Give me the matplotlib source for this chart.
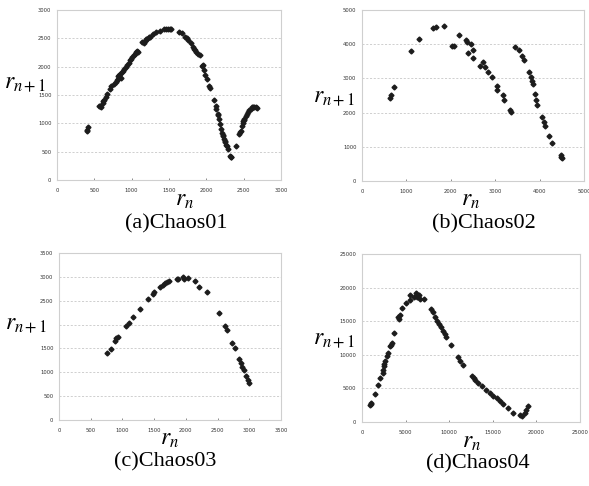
import matplotlib
matplotlib.use("Agg")
import matplotlib.pyplot as plt

plt.rcParams["mathtext.fontset"] = "stix"

# --- dati (r_n, r_n+1) ---
a_x = [400, 407, 416, 565, 580, 592, 610, 622, 633, 651, 669, 714, 728, 760, 796,
       805, 814, 820, 827, 835, 850, 860, 872, 888, 904, 920, 940, 958, 976, 990,
       1008, 1025, 1040, 1055, 1067, 1085, 1145, 1166, 1175, 1191, 1211, 1236, 1248,
       1282, 1327, 1373, 1427, 1460, 1486, 1510, 1532, 1636, 1668, 1714, 1740, 1759,
       1791, 1818, 1835, 1850, 1868, 1882, 1909, 1941, 1955, 1964, 1986, 2009, 2032,
       2055, 2100, 2123, 2136, 2155, 2160, 2168, 2182, 2191, 2209, 2220, 2227, 2236,
       2245, 2255, 2265, 2273, 2291, 2318, 2327, 2335, 2395, 2441, 2452, 2464, 2477,
       2485, 2491, 2500, 2509, 2530, 2545, 2560, 2577, 2595, 2614, 2630, 2645, 2665,
       2682]
a_y = [860, 880, 930, 1300, 1310, 1285, 1356, 1390, 1415, 1462, 1521, 1600, 1650, 1687, 1729,
       1760, 1788, 1840, 1829, 1860, 1865, 1800, 1906, 1930, 1965, 1990, 2025, 2060, 2113, 2140,
       2173, 2200, 2232, 2260, 2279, 2261, 2439, 2421, 2450, 2480, 2480, 2528, 2516,
       2569, 2605, 2628, 2658, 2660, 2670, 2665, 2658, 2605, 2587, 2528, 2500, 2469,
       2409, 2350, 2320, 2291, 2260, 2232, 2202, 2007, 2030, 1936, 1847, 1788, 1652,
       1622, 1415, 1314, 1255, 1166, 1140, 1077, 989, 900, 823, 790, 781, 722,
       690, 663, 620, 604, 545, 420, 414, 410, 592, 811, 840, 870, 959,
       1000, 1036, 1060, 1077, 1130, 1166, 1200, 1237, 1260, 1285, 1295, 1296, 1285,
       1273]

b_x = [634, 657, 718, 1095, 1284, 1601, 1677, 1843, 2190, 2017, 2069, 2334, 2356, 2379,
       2455, 2508, 2492, 2659, 2734, 2772, 2847, 2923, 3036, 3051, 3165, 3202, 3338, 3361,
       3452, 3542, 3603, 3648, 3754, 3799, 3829, 3852, 3890, 3920, 3950, 4056, 4094, 4131,
       4222, 4282, 4471, 4486, 4509]
b_y = [2436, 2505, 2740, 3787, 4149, 4472, 4491, 4520, 4276, 3953, 3943, 4110, 4061, 3748,
       3992, 3845, 3601, 3376, 3474, 3337, 3200, 3053, 2789, 2671, 2505, 2378, 2084, 2025,
       3924, 3826, 3669, 3532, 3180, 3043, 2916, 2828, 2534, 2378, 2221, 1869, 1712, 1614,
       1321, 1125, 753, 714, 675]

c_x = [759, 817, 890, 906, 927, 1064, 1096, 1170, 1275, 1396, 1475, 1496, 1591, 1633,
       1670, 1696, 1728, 1854, 1881, 1949, 1970, 2028, 2150, 2213, 2329, 2524, 2624, 2650,
       2734, 2776, 2845, 2871, 2892, 2919, 2950, 2977, 2998]
c_y = [1400, 1492, 1660, 1709, 1737, 1961, 2024, 2157, 2332, 2535, 2640, 2675, 2780, 2829,
       2864, 2892, 2920, 2955, 2962, 2990, 2955, 2976, 2906, 2780, 2675, 2241, 1961, 1877,
       1611, 1499, 1282, 1190, 1106, 1057, 924, 840, 770]

d_x = [954, 1000, 1069, 1450, 1832, 2099, 2366, 2420, 2481, 2560, 2672, 2863, 2977, 3244,
       3300, 3435, 3702, 4122, 4250, 4389, 4580, 5038, 5458, 5534, 5916, 6183, 6298, 6565,
       6679, 7061, 7939, 8092, 8397, 8588, 8855, 9084, 9275, 9466, 9618, 10153, 10992,
       11260, 11565, 12595, 12800, 12977, 13359, 13740, 14198, 14695, 15076, 15458, 15840,
       16221, 16794, 17366, 18130, 18397, 18702, 18817, 19084]
d_y = [2475, 2650, 2822, 4208, 5495, 6535, 7277, 7800, 8267, 8600, 9010, 9752, 10248, 11238,
       11500, 11733, 13317, 15594, 15300, 15941, 16931, 17673, 18911, 18168, 18663, 19158, 18564, 18911,
       18267, 18317, 16782, 16436, 15594, 15099, 14604, 14109, 13614, 13069, 12723, 11485, 9653,
       9010, 8515, 6881, 6500, 6287, 5792, 5297, 4802, 4307, 3911, 3564, 3069,
       2673, 2079, 1337, 990, 842, 1337, 1733, 2327]

captions = ["(a)Chaos01", "(b)Chaos02", "(c)Chaos03", "(d)Chaos04"]
limits = [3000, 5000, 3500, 25000]
steps = [500, 1000, 500, 5000]
series = [(a_x, a_y), (b_x, b_y), (c_x, c_y), (d_x, d_y)]

# posizioni in pixel (figura 589x486)
W, H = 589, 486
boxes = [(57, 281, 10, 180), (362, 584, 10, 181), (59, 281, 253, 420), (362, 580, 254, 422)]
ylab_pos = [(46, 82), (355, 96), (47, 323), (355, 338)]
xlab_pos = [(185, 199), (471, 199), (170, 438), (472, 441)]
cap_pos = [(176, 224), (484, 224), (165, 462), (478, 464)]

fig = plt.figure(figsize=(W / 100, H / 100), dpi=100)

for i in range(4):
    l, r, t, b = boxes[i]
    ax = fig.add_axes([l / W, (H - b) / H, (r - l) / W, (b - t) / H])
    xs, ys = series[i]
    ax.plot(xs, ys, linestyle="", marker="D", ms=2.5, color="#1c1c1c", mec="#1c1c1c")

    lim = limits[i]
    ticks = list(range(0, lim + 1, steps[i]))
    ax.set_xlim(0, lim)
    ax.set_ylim(0, lim)
    ax.set_xticks(ticks)
    ax.set_yticks(ticks)
    ax.tick_params(labelsize=3.8, colors="#333333", length=1.5, width=0.4,
                   direction="in", pad=4)
    ax.tick_params(axis="y", length=0, pad=4)
    ax.tick_params(axis="x", pad=6)
    ax.yaxis.grid(True, linestyle=(0, (2.5, 2)), color="#c8c8c8", linewidth=0.6)
    ax.set_axisbelow(True)
    for sp in ax.spines.values():
        sp.set_color("#cfcfcf")
        sp.set_linewidth(0.8)

    # nel riquadro (c) l'etichetta r_n+1 copre la tacca 2000 nell'originale
    if i == 2:
        ax.get_yticklabels()[4].set_visible(False)

    fig.text(ylab_pos[i][0] / W, 1 - ylab_pos[i][1] / H, r"$r_{n+1}$",
             fontsize=17, ha="right", va="center")
    fig.text(xlab_pos[i][0] / W, 1 - xlab_pos[i][1] / H, r"$r_n$",
             fontsize=17, ha="center", va="center")
    fig.text(cap_pos[i][0] / W, 1 - cap_pos[i][1] / H, captions[i],
             fontsize=16, family="Liberation Serif", ha="center", va="center")

fig.savefig("out.png", dpi=100)
